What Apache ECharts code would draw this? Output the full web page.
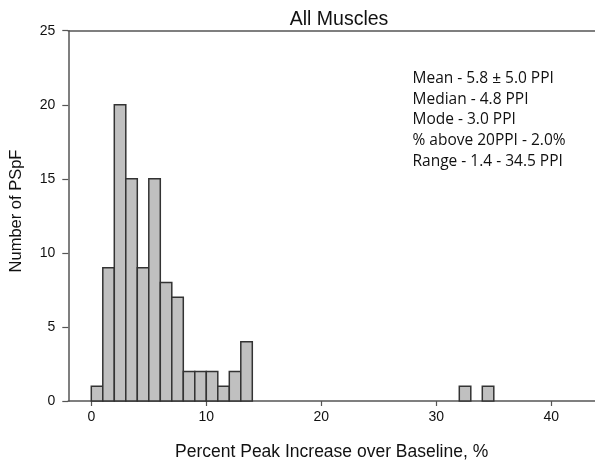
<!DOCTYPE html>
<html>
<head>
<meta charset="utf-8">
<script src="https://cdn.jsdelivr.net/npm/echarts@6/dist/echarts.min.js"></script>
<style>
  html, body { margin: 0; padding: 0; background: #fff; }
  #chart { width: 595px; height: 466px; }
</style>
</head>
<body>
<div id="chart"></div>
<script>
// Histogram of percent peak increase over baseline (bins of width 1)
const binStart = [0, 1, 2, 3, 4, 5, 6, 7, 8, 9, 10, 11, 12, 13, 32, 34];
const counts   = [1, 9, 20, 15, 9, 15, 8, 7, 2, 2, 2, 1, 2, 4, 1, 1];
const binWidth = 1;
const xTicks = [0, 10, 20, 30, 40];
const statLines = [
  'Mean - 5.8 \u00B1 5.0 PPI',
  'Median - 4.8 PPI',
  'Mode - 3.0 PPI',
  '% above 20PPI - 2.0%',
  'Range - 1.4 - 34.5 PPI'
];

const bins = binStart.map((s, i) => [s, s + binWidth, counts[i]]);
const axisColor = '#555';
const font = 'Liberation Sans, Arial, sans-serif';

const chart = echarts.init(document.getElementById('chart'), null, { renderer: 'canvas' });
chart.setOption({
  animation: false,
  backgroundColor: '#fff',
  title: {
    text: 'All Muscles',
    left: 334, top: 5, textAlign: 'center',
    textStyle: { fontFamily: font, fontSize: 19.5, fontWeight: 'normal', color: '#111' }
  },
  grid: { left: 68.3, top: 30.7, right: 0, bottom: 62.7 },
  xAxis: [{
    type: 'value', min: -2, max: 43.8, position: 'bottom',
    name: 'Percent Peak Increase over Baseline, %',
    nameLocation: 'middle', nameGap: 42,
    nameTextStyle: { fontFamily: font, fontSize: 17.5, color: '#111' },
    axisLine: { show: true, onZero: false, lineStyle: { color: axisColor, width: 1.5 } },
    axisTick: { show: true, length: 5, customValues: xTicks, lineStyle: { color: axisColor, width: 1.2 } },
    axisLabel: { customValues: xTicks, margin: 9, fontFamily: font, fontSize: 14, color: '#111' },
    splitLine: { show: false }
  }, {
    type: 'value', min: -2, max: 43.8, position: 'top',
    axisLine: { show: true, onZero: false, lineStyle: { color: axisColor, width: 1.5 } },
    axisTick: { show: false }, axisLabel: { show: false }, splitLine: { show: false }
  }],
  yAxis: {
    type: 'value', min: 0, max: 25, interval: 5, position: 'left',
    axisLine: { show: true, onZero: false, lineStyle: { color: axisColor, width: 1.5 } },
    axisTick: { show: true, length: 6, lineStyle: { color: axisColor, width: 1.2 } },
    axisLabel: { margin: 13, fontFamily: font, fontSize: 14, color: '#111' },
    splitLine: { show: false }
  },
  graphic: [{
    type: 'text', x: 16.7, y: 211, rotation: Math.PI / 2,
    style: {
      text: 'Number of PSpF', align: 'center', verticalAlign: 'middle',
      font: '16.5px ' + font, fill: '#111'
    }
  }, {
    type: 'text', left: 412.5, top: 68,
    style: {
      text: statLines.join('\n'), lineHeight: 20.8,
      font: '15.5px "Open Sans", "Noto Sans", sans-serif', fill: '#111'
    }
  }],
  series: [{
    type: 'custom',
    data: bins,
    encode: { x: [0, 1], y: 2 },
    renderItem: function (params, api) {
      const p0 = api.coord([api.value(0), api.value(2)]);
      const p1 = api.coord([api.value(1), 0]);
      return {
        type: 'rect',
        shape: { x: p0[0], y: p0[1], width: p1[0] - p0[0], height: p1[1] - p0[1] },
        style: { fill: '#c0c0c0', stroke: '#333', lineWidth: 1.5 }
      };
    }
  }]
});
</script>
</body>
</html>
